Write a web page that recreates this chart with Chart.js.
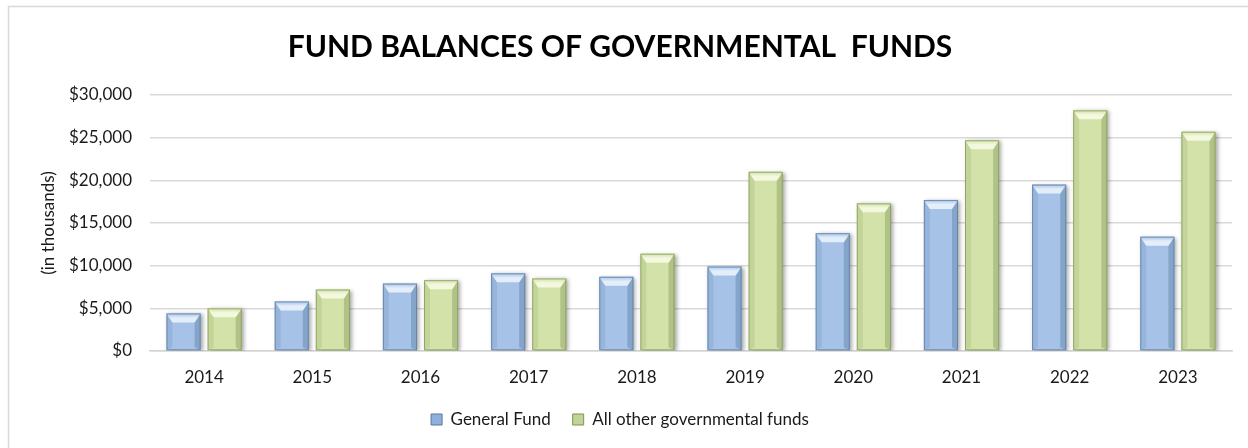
<!DOCTYPE html>
<html>
<head>
<meta charset="utf-8">
<script src="https://cdn.jsdelivr.net/npm/chart.js@4.4.1/dist/chart.umd.min.js"></script>
<style>
  html, body { margin: 0; padding: 0; background: #fff; }
  #wrap { width: 1248px; height: 448px; position: relative; }
</style>
</head>
<body>
<div id="wrap"><canvas id="fundChart"></canvas></div>
<script>
const years = ['2014', '2015', '2016', '2017', '2018', '2019', '2020', '2021', '2022', '2023'];
const generalFund = [4400, 5800, 7900, 9100, 8700, 9900, 13800, 17700, 19500, 13400];
const otherFunds = [5000, 7200, 8300, 8500, 11400, 21000, 17300, 24700, 28200, 25700];
const yTicks = [0, 5000, 10000, 15000, 20000, 25000, 30000];

const FONT = 'Lato, "Open Sans", sans-serif';

// body / edge / cap tones for each series
const palette = [
  { mid: '#a6c3e7', edge: '#7396c6', dark: '#55769f', cap: '#e4eefa' },
  { mid: '#d2e2a9', edge: '#a5bb72', dark: '#7f9352', cap: '#f3f8df' }
];

function barGradient(ctx, tones) {
  const chart = ctx.chart;
  const el = ctx.element;
  if (!el || !chart.chartArea) return tones.mid;
  const { x, width } = el.getProps(['x', 'width'], true);
  if (!isFinite(x) || !width) return tones.mid;
  const g = chart.ctx.createLinearGradient(x - width / 2, 0, x + width / 2, 0);
  g.addColorStop(0, tones.edge);
  g.addColorStop(0.25, tones.mid);
  g.addColorStop(0.7, tones.mid);
  g.addColorStop(1, tones.edge);
  return g;
}

// frame around the whole chart
const frame = {
  id: 'frame',
  beforeDraw(chart) {
    const c = chart.ctx;
    c.save();
    c.strokeStyle = '#d9d9d9';
    c.lineWidth = 1.5;
    c.strokeRect(8.5, 6.5, chart.width + 20, chart.height + 20);
    c.restore();
  }
};

// soft shadow behind bars, then bevelled edges and a light top cap
const bevel = {
  id: 'bevel',
  beforeDatasetsDraw(chart) {
    const c = chart.ctx;
    c.save();
    c.shadowColor = 'rgba(0,0,0,0.35)';
    c.shadowBlur = 4;
    c.shadowOffsetX = 2;
    c.shadowOffsetY = 1;
  },
  afterDatasetsDraw(chart) {
    const c = chart.ctx;
    c.restore();
    chart.data.datasets.forEach((ds, di) => {
      const tones = palette[di];
      chart.getDatasetMeta(di).data.forEach(bar => {
        const { x, y, base, width } = bar.getProps(['x', 'y', 'base', 'width'], true);
        const l = x - width / 2, r = x + width / 2;
        const inset = Math.min(6, width / 5);
        const capH = Math.min(9, (base - y) / 2);
        c.save();
        // right side strip
        c.fillStyle = tones.dark;
        c.globalAlpha = 0.4;
        c.beginPath();
        c.moveTo(r, y); c.lineTo(r - inset, y + capH); c.lineTo(r - inset, base - 3); c.lineTo(r, base);
        c.closePath(); c.fill();
        // left side strip
        c.globalAlpha = 0.18;
        c.beginPath();
        c.moveTo(l, y); c.lineTo(l + inset, y + capH); c.lineTo(l + inset, base - 3); c.lineTo(l, base);
        c.closePath(); c.fill();
        // top cap
        c.globalAlpha = 1;
        const g = c.createLinearGradient(0, y, 0, y + capH);
        g.addColorStop(0, tones.mid);
        g.addColorStop(0.5, tones.cap);
        g.addColorStop(1, tones.cap);
        c.fillStyle = g;
        c.beginPath();
        c.moveTo(l, y); c.lineTo(r, y); c.lineTo(r - inset, y + capH); c.lineTo(l + inset, y + capH);
        c.closePath(); c.fill();
        // outline
        c.strokeStyle = tones.dark;
        c.globalAlpha = 0.7;
        c.lineWidth = 1;
        c.strokeRect(l + 0.5, y + 0.5, width - 1, base - y - 1);
        c.restore();
      });
    });
  }
};

const legendColors = ['#8fb0da', '#bfd496'];

new Chart(document.getElementById('fundChart'), {
  type: 'bar',
  data: {
    labels: years,
    datasets: [
      {
        label: 'General Fund',
        data: generalFund,
        backgroundColor: ctx => barGradient(ctx, palette[0]),
        borderWidth: 0,
        categoryPercentage: 0.76,
        barPercentage: 0.83
      },
      {
        label: 'All other governmental funds',
        data: otherFunds,
        backgroundColor: ctx => barGradient(ctx, palette[1]),
        borderWidth: 0,
        categoryPercentage: 0.76,
        barPercentage: 0.83
      }
    ]
  },
  options: {
    responsive: true,
    maintainAspectRatio: false,
    animation: false,
    layout: { padding: { left: 8, right: 16, top: 0, bottom: 10 } },
    plugins: {
      title: {
        display: true,
        text: 'FUND BALANCES OF GOVERNMENTAL  FUNDS',
        color: '#000',
        font: { family: FONT, size: 30, weight: 'bold', lineHeight: 1.2 },
        padding: { top: 29, bottom: 30 }
      },
      legend: {
        position: 'bottom',
        labels: {
          color: '#1a1a1a',
          font: { family: FONT, size: 17 },
          boxWidth: 11,
          boxHeight: 11,
          padding: 22,
          generateLabels: chart => chart.data.datasets.map((ds, i) => ({
            text: ds.label,
            fillStyle: legendColors[i],
            strokeStyle: palette[i].dark,
            lineWidth: 1,
            datasetIndex: i,
            fontColor: '#1a1a1a'
          }))
        }
      },
      tooltip: { enabled: false }
    },
    scales: {
      x: {
        afterFit: scale => { scale.height = 38; },
        grid: { display: false, drawTicks: false },
        border: { display: true, color: '#d4d4d4', width: 1.5 },
        ticks: { color: '#1a1a1a', font: { family: FONT, size: 17 }, padding: 16 }
      },
      y: {
        min: 0,
        max: 30000,
        afterFit: scale => { scale.width = 142; },
        afterBuildTicks: scale => { scale.ticks = yTicks.map(v => ({ value: v })); },
        grid: { color: '#d9d9d9', lineWidth: 1.5, drawTicks: false },
        border: { display: false },
        ticks: {
          color: '#1a1a1a',
          font: { family: FONT, size: 17 },
          padding: 18,
          callback: v => '$' + v.toLocaleString('en-US')
        },
        title: {
          display: true,
          text: '(in thousands)',
          color: '#1a1a1a',
          font: { family: FONT, size: 17 },
          padding: { top: 30, bottom: 0 }
        }
      }
    }
  },
  plugins: [frame, bevel]
});
</script>
</body>
</html>
